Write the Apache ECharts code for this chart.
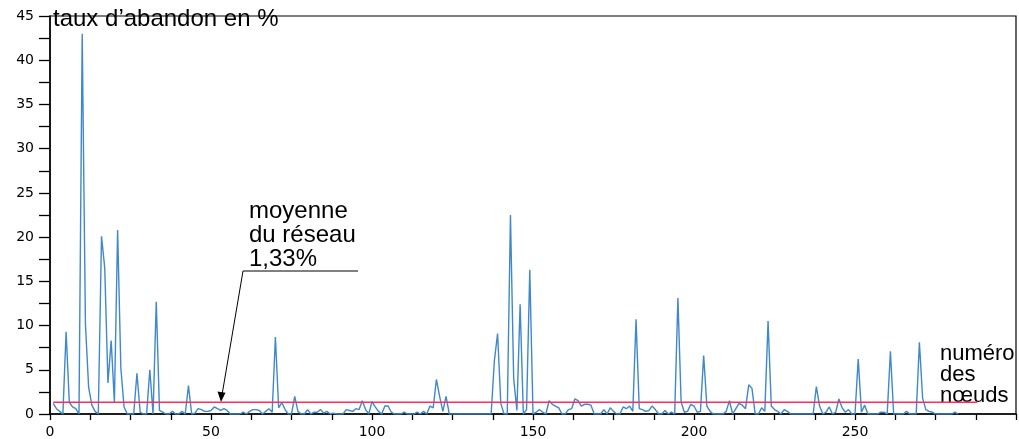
<!DOCTYPE html>
<html><head><meta charset="utf-8">
<script src="https://cdn.jsdelivr.net/npm/echarts@6/dist/echarts.min.js"></script>
<style>html,body{margin:0;padding:0;background:#fff}#c{width:1019px;height:439px}</style>
</head><body><div id="c"></div>
<script>
// Node numbers start at 1
const startNode = 1;
const tauxAbandon = [
  1.2, 0.6, 0.3, 0.0, 9.3, 1.3, 0.8, 0.6, 0.0, 43.0,
  10.2, 3.0, 1.0, 0.3, 0.0, 20.1, 16.5, 3.5, 8.3, 1.3,
  20.8, 5.2, 0.8, 0.0, 0.0, 0.0, 4.6, 0.2, 0.0, 0.0,
  5.0, 0.0, 12.7, 0.4, 0.2, 0.0, 0.0, 0.3, 0.0, 0.0,
  0.3, 0.0, 3.2, 0.0, 0.1, 0.6, 0.5, 0.3, 0.3, 0.4,
  0.8, 0.6, 0.4, 0.6, 0.4, 0.0, 0.0, 0.0, 0.0, 0.2,
  0.0, 0.3, 0.5, 0.5, 0.4, 0.0, 0.3, 0.6, 0.2, 8.7,
  0.7, 1.3, 0.5, 0.0, 0.0, 2.0, 0.3, 0.0, 0.0, 0.5,
  0.0, 0.2, 0.2, 0.5, 0.1, 0.3, 0.0, 0.1, 0.0, 0.0,
  0.0, 0.5, 0.4, 0.3, 0.6, 0.5, 1.5, 0.5, 0.0, 1.4,
  0.8, 0.3, 0.0, 0.9, 0.9, 0.2, 0.0, 0.0, 0.0, 0.2,
  0.0, 0.0, 0.0, 0.2, 0.0, 0.3, 0.0, 0.9, 0.7, 3.9,
  2.0, 0.3, 2.0, 0.0, 0.0, 0.0, 0.0, 0.0, 0.0, 0.0,
  0.0, 0.0, 0.0, 0.0, 0.0, 0.0, 0.0, 6.0, 9.1, 1.2,
  0.0, 0.0, 22.5, 4.0, 0.4, 12.4, 0.0, 0.5, 16.3, 0.0,
  0.2, 0.5, 0.2, 0.0, 1.5, 1.1, 0.9, 0.7, 0.0, 0.0,
  0.5, 0.6, 1.7, 1.5, 0.9, 1.1, 1.1, 1.0, 0.0, 0.0,
  0.0, 0.5, 0.0, 0.7, 0.3, 0.0, 0.0, 0.8, 0.6, 0.9,
  0.3, 10.7, 0.6, 0.5, 0.3, 0.4, 0.9, 0.5, 0.0, 0.0,
  0.4, 0.0, 0.2, 0.0, 13.1, 1.35, 0.2, 0.3, 1.1, 0.9,
  0.2, 0.3, 6.6, 0.9, 0.3, 0.0, 0.0, 0.0, 0.0, 0.3,
  1.5, 0.0, 0.6, 1.2, 1.0, 0.6, 3.3, 2.9, 0.0, 0.0,
  0.7, 0.3, 10.5, 0.9, 0.5, 0.3, 0.0, 0.5, 0.3, 0.0,
  0.0, 0.0, 0.0, 0.0, 0.0, 0.0, 0.0, 3.1, 0.9, 0.0,
  0.2, 0.8, 0.0, 0.2, 1.7, 0.7, 0.2, 0.5, 0.0, 0.0,
  6.2, 0.2, 1.0, 0.0, 0.0, 0.0, 0.0, 0.2, 0.2, 0.0,
  7.1, 0.0, 0.0, 0.0, 0.0, 0.3, 0.0, 0.0, 0.0, 8.1,
  1.8, 0.5, 0.3, 0.2, 0.0, 0.0, 0.0, 0.0, 0.0, 0.0,
  0.2, 0.0
];
const moyenneReseau = 1.33;
const moyenneRange = [1, 288];
const xTicks = [0, 50, 100, 150, 200, 250];
const yTicks = [0, 5, 10, 15, 20, 25, 30, 35, 40, 45];

const lineData = tauxAbandon.map((v, i) => [startNode + i, v]);
const meanData = moyenneRange.map(x => [x, moyenneReseau]);

const chart = echarts.init(document.getElementById('c'), null, {renderer: 'canvas'});
const txt = 'Liberation Sans, Arial, Helvetica, sans-serif';
const axFont = 'DejaVu Sans, sans-serif';
chart.setOption({
  animation: false,
  backgroundColor: '#fff',
  grid: {left: 50, right: 2, top: 16, bottom: 23, show: true, borderColor: '#000', borderWidth: 1.2},
  xAxis: {
    type: 'value', min: 0, max: 300, interval: 50,
    axisLine: {show: true, onZero: false, lineStyle: {color: '#000', width: 1.5}},
    axisTick: {show: true, length: 6, lineStyle: {color: '#000', width: 1.3}},
    minorTick: {show: true, splitNumber: 4, length: 6, lineStyle: {color: '#000', width: 1.3}},
    splitLine: {show: false},
    axisLabel: {color: '#000', fontFamily: axFont, fontSize: 14, margin: 11,
      formatter: v => xTicks.includes(v) ? String(v) : ''}
  },
  yAxis: {
    type: 'value', min: 0, max: 45, interval: 5,
    axisLine: {show: true, lineStyle: {color: '#000', width: 1.5}},
    axisTick: {show: true, length: 11, lineStyle: {color: '#000', width: 1.3}},
    minorTick: {show: true, splitNumber: 2, length: 11, lineStyle: {color: '#000', width: 1.3}},
    splitLine: {show: false},
    axisLabel: {color: '#000', fontFamily: axFont, fontSize: 14, margin: 16,
      formatter: v => yTicks.includes(v) ? String(v) : ''}
  },
  series: [
    {type: 'line', data: lineData, symbol: 'none', lineStyle: {color: '#3f88cc', width: 1.4}, z: 3},
    {type: 'line', data: meanData, symbol: 'none', lineStyle: {color: '#ff2d5c', width: 1.5}, z: 4}
  ],
  graphic: [
    {type: 'text', left: 53, top: 7, style: {text: 'taux d\u2019abandon en %', font: '24px ' + txt, fill: '#000'}},
    {type: 'text', left: 249, top: 199, style: {text: 'moyenne\ndu r\u00e9seau\n1,33%', font: '24px ' + txt, lineHeight: 24, fill: '#000'}},
    {type: 'text', left: 940, top: 343, style: {text: 'num\u00e9ro\ndes\nn\u0153uds', font: '22px ' + txt, lineHeight: 21, fill: '#000'}},
    {type: 'polyline', shape: {points: [[358, 271], [243, 271], [222, 395]]}, style: {stroke: '#000', lineWidth: 1, fill: null}},
    {type: 'polygon', shape: {points: [[221, 402], [217.5, 391.5], [225.5, 392.8]]}, style: {fill: '#000'}}
  ]
});
</script></body></html>
